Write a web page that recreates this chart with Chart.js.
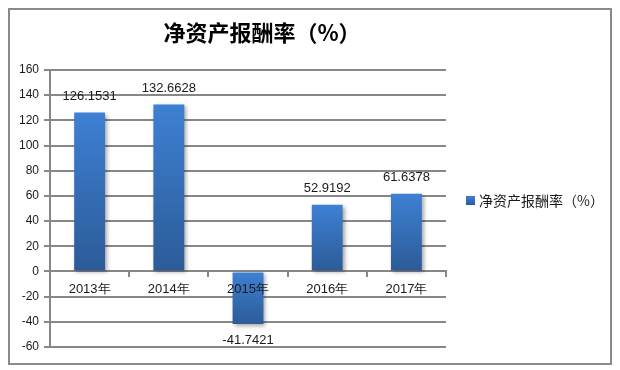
<!DOCTYPE html>
<html>
<head>
<meta charset="utf-8">
<script src="https://cdn.jsdelivr.net/npm/chart.js@4"></script>
<style>
  html, body { margin: 0; padding: 0; background: #fff; }
  #wrap { width: 620px; height: 370px; position: relative; }
</style>
</head>
<body>
<div id="wrap"><canvas id="main-chart" width="620" height="370"></canvas></div>
<script>
const categories = ['2013年', '2014年', '2015年', '2016年', '2017年'];
const roeValues = [126.1531, 132.6628, -41.7421, 52.9192, 61.6378];
const valueLabels = ['126.1531', '132.6628', '-41.7421', '52.9192', '61.6378'];
const seriesName = '净资产报酬率（%）';
const titleText = '净资产报酬率（%）';

const gridColor = '#878787';
const textColor = '#1a1a1a';
const barLight = '#3e80d3';
const barDark = '#2c5b98';

// frame, title and legend drawn by hand
const framePlugin = {
  id: 'frame',
  beforeDraw(chart) {
    const c = chart.ctx;
    c.save();
    c.fillStyle = '#fff';
    c.fillRect(0, 0, chart.width, chart.height);
    c.strokeStyle = '#8a8a8a';
    c.lineWidth = 2;
    c.strokeRect(9, 9, 602, 355);
    c.fillStyle = '#000';
    c.font = 'bold 22px "Noto Sans CJK SC"';
    c.textAlign = 'center';
    c.textBaseline = 'middle';
    c.fillText(titleText, 262, 33);
    c.restore();
  },
  afterDraw(chart) {
    const c = chart.ctx;
    c.save();
    const g = c.createLinearGradient(0, 196, 0, 205);
    g.addColorStop(0, barLight);
    g.addColorStop(1, barDark);
    c.fillStyle = g;
    c.fillRect(466, 196, 9, 9);
    c.fillStyle = textColor;
    c.font = '14px "Noto Sans CJK SC"';
    c.textAlign = 'left';
    c.textBaseline = 'middle';
    c.fillText(seriesName, 479, 201);
    c.restore();
  }
};

// gradient per bar + light shadow
const barFill = {
  id: 'barFill',
  beforeDatasetsDraw(chart) {
    const c = chart.ctx;
    chart.getDatasetMeta(0).data.forEach(bar => {
      const top = Math.min(bar.y, bar.base);
      const bottom = Math.max(bar.y, bar.base);
      const g = c.createLinearGradient(0, top, 0, bottom);
      g.addColorStop(0, barLight);
      g.addColorStop(1, barDark);
      bar.options = Object.assign({}, bar.options, { backgroundColor: g });
    });
    c.save();
    c.shadowColor = 'rgba(0,0,0,0.35)';
    c.shadowBlur = 4;
    c.shadowOffsetX = 2;
    c.shadowOffsetY = 2;
  },
  afterDatasetsDraw(chart) {
    chart.ctx.restore();
  }
};

// value labels above / below bars
const valueLabelPlugin = {
  id: 'valueLabels',
  afterDatasetsDraw(chart) {
    const c = chart.ctx;
    c.save();
    c.fillStyle = textColor;
    c.font = '13px "Liberation Sans"';
    c.textAlign = 'center';
    c.textBaseline = 'middle';
    chart.getDatasetMeta(0).data.forEach((bar, i) => {
      const v = roeValues[i];
      const y = v >= 0 ? bar.y - 16 : bar.y + 16;
      c.fillText(valueLabels[i], bar.x, y);
    });
    c.restore();
  }
};

new Chart(document.getElementById('main-chart'), {
  type: 'bar',
  data: {
    labels: categories,
    datasets: [{
      label: seriesName,
      data: roeValues,
      backgroundColor: () => barLight,
      borderWidth: 0,
      barPercentage: 0.39,
      categoryPercentage: 1.0
    }]
  },
  options: {
    responsive: false,
    animation: false,
    layout: { padding: { top: 70, bottom: 23, left: 14, right: 174 } },
    plugins: {
      title: { display: false },
      tooltip: { enabled: false },
      legend: { display: false }
    },
    scales: {
      x: {
        position: { y: 0 },
        offset: true,
        grid: {
          offset: true,
          drawOnChartArea: false,
          drawTicks: true,
          tickLength: 5,
          color: gridColor,
          lineWidth: 2
        },
        border: { color: gridColor, width: 2 },
        ticks: {
          z: 1,
          color: textColor,
          font: { size: 13, family: '"Liberation Sans"' },
          padding: 5,
          maxRotation: 0
        }
      },
      y: {
        min: -60,
        max: 160,
        ticks: {
          stepSize: 20,
          color: textColor,
          font: { size: 12, family: '"Liberation Sans"' },
          padding: 5
        },
        grid: {
          color: gridColor,
          lineWidth: 2,
          tickLength: 6
        },
        border: { color: gridColor, width: 2 }
      }
    }
  },
  plugins: [framePlugin, barFill, valueLabelPlugin]
});
</script>
</body>
</html>
